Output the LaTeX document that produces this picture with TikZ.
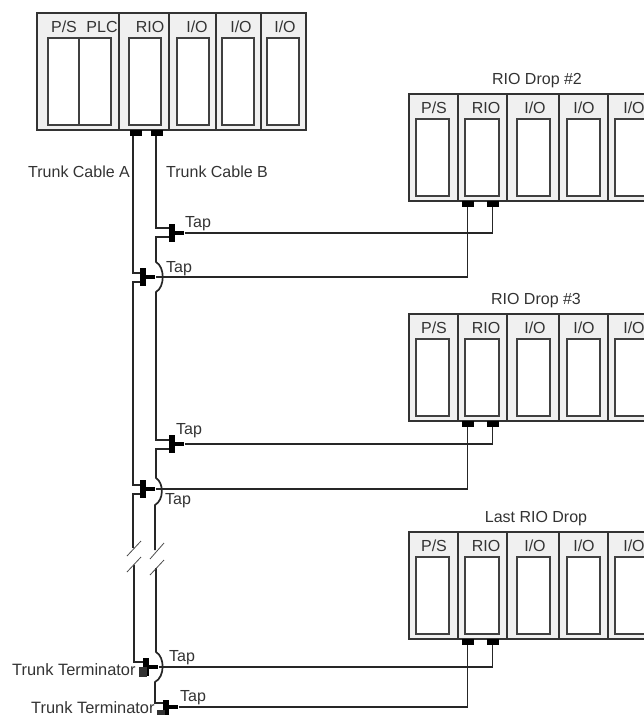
\documentclass[tikz,border=0pt]{standalone}
\usepackage{fontspec}
\setmainfont{Liberation Sans}
\tikzset{
  lab/.style={font=\fontsize{16}{18}\selectfont, text=black!80, inner sep=0pt, anchor=base},
  tlab/.style={lab, anchor=base west},
  rackline/.style={draw=black!80, line width=1.6pt, fill=black!6},
  win/.style={draw=black!75, line width=1.5pt, fill=white},
  cable/.style={draw=black!85, line width=1.7pt},
  portb/.style={fill=black, draw=none, inner sep=0pt, minimum width=12pt, minimum height=6pt},
  tapbar/.style={fill=black, draw=none, inner sep=0pt, minimum width=6pt, minimum height=18pt},
  stub/.style={fill=black, draw=none, inner sep=0pt, minimum width=9pt, minimum height=4.5pt, anchor=west},
  term/.style={fill=black!80, draw=none, inner sep=0pt, minimum width=8pt, minimum height=10pt},
  brk/.style={draw=black!70, line width=0.8pt}
}
\newcommand{\slotbox}[7]{% name, xleft, xright, ytop, ybot, label, label x
  \draw[win] (#2,#4) rectangle (#3,#5);
  \node[lab] (#1) at (#7,#4-6) {#6};
}
\begin{document}
\begin{tikzpicture}[x=1pt,y=-1pt]
\useasboundingbox (0,0) rectangle (644,715);
% main rack
\draw[rackline] (37,13) rectangle (306,130);
\foreach \d in {119,169,216,261} \draw[rackline] (\d,13) -- (\d,130);
\draw[win] (48,38) rectangle (79,125);
\draw[win] (79,38) rectangle (111,125);
\node[lab] (mps) at (64,32) {P/S};
\node[lab] (mplc) at (102,32) {PLC};
\slotbox{mrio}{129}{161}{38}{125}{RIO}{150}
\slotbox{mio1}{177}{209}{38}{125}{I/O}{197}
\slotbox{mio2}{222}{254}{38}{125}{I/O}{241}
\slotbox{mio3}{267}{299}{38}{125}{I/O}{285}
% drops
\foreach \n/\t/\ttl/\tx in {a/94/RIO Drop \#2/537,b/314/RIO Drop \#3/536,c/532/Last RIO Drop/536}{
  \pgfmathsetmacro{\b}{\t+107}
  \pgfmathsetmacro{\wt}{\t+25}
  \pgfmathsetmacro{\wb}{\t+102}
  \draw[rackline] (644,\t) -- (409,\t) -- (409,\b) -- (644,\b);
  \foreach \d in {458,507,559,608} \draw[rackline] (\d,\t) -- (\d,\b);
  \slotbox{\n ps}{416}{449}{\wt}{\wb}{P/S}{434}
  \slotbox{\n rio}{465}{499}{\wt}{\wb}{RIO}{486}
  \slotbox{\n ioa}{517}{550}{\wt}{\wb}{I/O}{535}
  \slotbox{\n iob}{567}{600}{\wt}{\wb}{I/O}{584}
  \draw[win] (644,\wt) -- (615,\wt) -- (615,\wb) -- (644,\wb);
  \node[lab] (\n io) at (634,\wt-6) {I/O};
  \node[lab] (\n title) at (\tx,\t-10) {\ttl};
}
% ports
\node[portb] (pA) at (136,132.5) {};
\node[portb] (pB) at (157,132.5) {};
\foreach \n/\y in {a/204,b/424,c/642}{
  \node[portb] (\n1) at (467.5,\y) {};
  \node[portb] (\n2) at (492.5,\y) {};
}
% tap bars
\node[tapbar] (t1) at (172,233) {};
\node[tapbar] (t2) at (143,277) {};
\node[tapbar] (t3) at (172,444) {};
\node[tapbar] (t4) at (143,489) {};
\node[tapbar] (t5) at (146,667) {};
\node[tapbar, minimum height=15pt] (t6) at (166,707) {};
\foreach \s in {t1,t2,t3,t4,t5,t6} \node[stub] (\s s) at (\s.east) {};
\node[term] (tA) at (143,672) {};
\node[term, minimum height=5pt] (tB) at (161,712) {};
\coordinate (A0) at (133,132);
\coordinate (B0) at (156,132);
% trunk A
\draw[cable] (pA.south -| A0) -- (133,273) -- (t2.west |- 0,273);
\draw[cable] (t2.west |- 0,282) -- (133,282) -- (133,485) -- (t4.west |- 0,485);
\draw[cable] (t4.west |- 0,494) -- (133,494) -- (133,548);
\draw[cable] (134,565) -- (134,662) -- (t5.west |- 0,662);
% trunk B
\draw[cable] (pB.south -| B0) -- (156,228) -- (t1.west |- 0,228);
\draw[cable] (t1.west |- 0,237) -- (156,237) -- (156,262)
   .. controls (165,267) and (165,287) .. (156,292) -- (156,440) -- (t3.west |- 0,440);
\draw[cable] (t3.west |- 0,449) -- (156,449) -- (156,478)
   .. controls (164,483) and (164,500) .. (155,505) -- (155,550);
\draw[cable] (156,568) -- (156,652)
   .. controls (165,657) and (165,677) .. (155,682) -- (155,703) -- (t6.west |- 0,703);
% breaks
\draw[brk] (127,556) -- (141,541);
\draw[brk] (127,572) -- (141,557);
\draw[brk] (150,559) -- (164,543);
\draw[brk] (150,575) -- (164,560);
% tap lines
\draw[cable] (t1s.east) -| (a2.south);
\draw[cable] (t2s.east) -| (a1.south);
\draw[cable] (t3s.east) -| (b2.south);
\draw[cable] (t4s.east) -| (b1.south);
\draw[cable] (t5s.east) -| (c2.south);
\draw[cable] (t6s.east) -| (c1.south);
% labels
\node[tlab] (lA) at (28,177) {Trunk Cable A};
\node[tlab] (lB) at (166,177) {Trunk Cable B};
\node[tlab] at (185,227) {Tap};
\node[tlab] at (166,272) {Tap};
\node[tlab] at (176,434) {Tap};
\node[tlab] at (165,504) {Tap};
\node[tlab] at (169,661) {Tap};
\node[tlab] at (180,701) {Tap};
\node[tlab, font=\fontsize{16.4}{18}\selectfont] at (12,675) {Trunk Terminator};
\node[tlab, font=\fontsize{16.4}{18}\selectfont] at (31,713) {Trunk Terminator};
\end{tikzpicture}
\end{document}
